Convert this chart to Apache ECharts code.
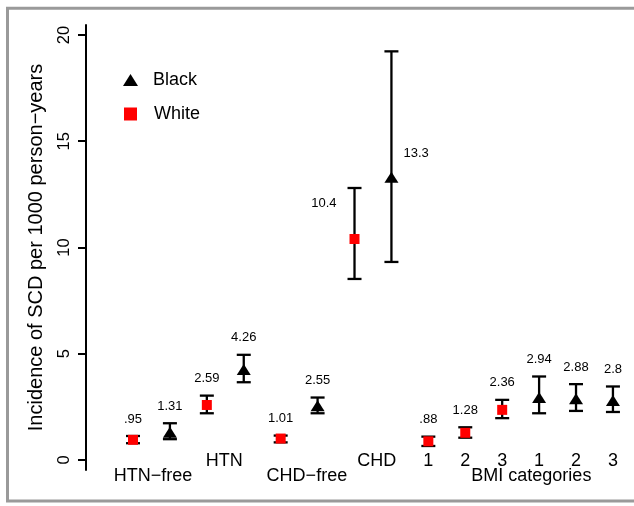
<!DOCTYPE html>
<html><head><meta charset="utf-8">
<script src="https://cdn.jsdelivr.net/npm/echarts@6/dist/echarts.min.js"></script>
<style>html,body{margin:0;padding:0;background:#fff}#c{width:634px;height:506px}</style>
</head><body><div id="c"></div>
<script>
// ---- data ----
const whitePos   = [1, 3, 5, 7, 9, 10, 11];
const whiteVal   = [0.95, 2.59, 1.01, 10.4, 0.88, 1.28, 2.36];
const whiteLow   = [0.79, 2.20, 0.83, 8.52, 0.66, 1.05, 1.97];
const whiteHigh  = [1.13, 3.03, 1.15, 12.8, 1.10, 1.54, 2.83];
const whiteText  = ['.95', '2.59', '1.01', '10.4', '.88', '1.28', '2.36'];

const blackPos   = [2, 4, 6, 8, 12, 13, 14];
const blackVal   = [1.31, 4.26, 2.55, 13.3, 2.94, 2.88, 2.8];
const blackLow   = [0.98, 3.66, 2.20, 9.32, 2.20, 2.31, 2.26];
const blackHigh  = [1.73, 4.95, 2.94, 19.23, 3.93, 3.57, 3.46];
const blackText  = ['1.31', '4.26', '2.55', '13.3', '2.94', '2.88', '2.8'];

const yTicks = [0, 5, 10, 15, 20];
const xTopLabelPos = [3.47, 7.6, 9, 10, 11, 12, 13, 14];
const xTopLabels   = ['HTN', 'CHD', '1', '2', '3', '1', '2', '3'];
const xBotLabelPos = [1.54, 5.71, 11.79];
const xBotLabels   = ['HTN\u2212free', 'CHD\u2212free', 'BMI categories'];

// label placement (layout, not data)
const whiteLabelSide = ['top','top','top','left','top','top','top'];
const blackLabelSide = ['top','top','top','right','top','top','top'];

const FONT = '"Liberation Sans", Arial, Helvetica, sans-serif';

function lookup(posArr, txtArr) {
  return function (v) {
    for (let i = 0; i < posArr.length; i++) if (Math.abs(posArr[i] - v) < 1e-6) return txtArr[i];
    return '';
  };
}

function makeBars(texts, sides) {
  return function (params, api) {
    const i = params.dataIndex;
    const x = api.value(0), lo = api.value(1), hi = api.value(2), v = api.value(3);
    const pLo = api.coord([x, lo]), pHi = api.coord([x, hi]), pV = api.coord([x, v]);
    const cx = pLo[0], hw = 7;
    const st = { stroke: '#000', lineWidth: 2.3 };
    const children = [
      { type: 'line', shape: { x1: cx, y1: pLo[1], x2: cx, y2: pHi[1] }, style: st },
      { type: 'line', shape: { x1: cx - hw, y1: pHi[1], x2: cx + hw, y2: pHi[1] }, style: st },
      { type: 'line', shape: { x1: cx - hw, y1: pLo[1], x2: cx + hw, y2: pLo[1] }, style: st }
    ];
    let tx = cx, ty = pHi[1] - 17, align = 'center';
    if (sides[i] === 'left') { tx = cx - 18; ty = pV[1] - 36; align = 'right'; }
    if (sides[i] === 'right') { tx = cx + 12; ty = pV[1] - 24; align = 'left'; }
    children.push({ type: 'text', x: tx, y: ty,
      style: { text: texts[i], fontSize: 13, fontFamily: FONT, fill: '#000', align: align, verticalAlign: 'middle' } });
    return { type: 'group', children: children };
  };
}

const whiteBars = whitePos.map((p, i) => [p, whiteLow[i], whiteHigh[i], whiteVal[i]]);
const blackBars = blackPos.map((p, i) => [p, blackLow[i], blackHigh[i], blackVal[i]]);

const xCommon = {
  type: 'value', min: -0.273, max: 14.5, position: 'bottom', gridIndex: 0,
  axisLine: { show: false, onZero: false }, axisTick: { show: false }, splitLine: { show: false }
};

const chart = echarts.init(document.getElementById('c'), null, { renderer: 'canvas' });
chart.setOption({
  animation: false,
  backgroundColor: '#fff',
  textStyle: { fontFamily: FONT },
  graphic: [{
    type: 'rect', shape: { x: 7.5, y: 8.3, width: 700, height: 492.7 },
    style: { fill: 'none', stroke: '#9a9a9a', lineWidth: 3 }, silent: true, z: -10
  }],
  grid: { left: 86, top: 25, width: 545.4, height: 445, containLabel: false, outerBoundsMode: 'none' },
  legend: [
    { data: ['Black'], left: 123, top: 71, padding: 0, orient: 'vertical', selectedMode: false,
      itemWidth: 15, itemHeight: 12, symbolKeepAspect: false,
      textStyle: { fontSize: 18, color: '#000', fontFamily: FONT, padding: [0, 0, 0, 10] } },
    { data: ['White'], left: 124, top: 105, padding: 0, orient: 'vertical', selectedMode: false,
      itemWidth: 13, itemHeight: 13, symbolKeepAspect: false,
      textStyle: { fontSize: 18, color: '#000', fontFamily: FONT, padding: [0, 0, 0, 12] } }
  ],
  xAxis: [
    Object.assign({}, xCommon, {
      axisLabel: { customValues: xTopLabelPos, formatter: lookup(xTopLabelPos, xTopLabels),
        fontSize: 18, color: '#000', fontFamily: FONT, margin: -18 }
    }),
    Object.assign({}, xCommon, {
      axisLabel: { customValues: xBotLabelPos, formatter: lookup(xBotLabelPos, xBotLabels),
        fontSize: 18, color: '#000', fontFamily: FONT, margin: -2.5 }
    })
  ],
  yAxis: {
    type: 'value', min: -0.47, max: 20.47,
    name: 'Incidence of SCD per 1000 person\u2212years', nameLocation: 'middle', nameGap: 40,
    nameTextStyle: { fontSize: 20, color: '#000', fontFamily: FONT },
    axisLine: { show: true, onZero: false, lineStyle: { color: '#000', width: 2 } },
    axisTick: { show: true, customValues: yTicks, length: 8, lineStyle: { color: '#000', width: 2 } },
    axisLabel: { show: true, customValues: yTicks, rotate: 90, fontSize: 16.5, color: '#000', fontFamily: FONT, margin: 13.5 },
    splitLine: { show: false }
  },
  series: [
    { type: 'custom', name: 'wbars', xAxisIndex: 0, renderItem: makeBars(whiteText, whiteLabelSide),
      data: whiteBars, encode: { x: 0, y: [1, 2] }, z: 2, silent: true },
    { type: 'custom', name: 'bbars', xAxisIndex: 0, renderItem: makeBars(blackText, blackLabelSide),
      data: blackBars, encode: { x: 0, y: [1, 2] }, z: 2, silent: true },
    { type: 'scatter', name: 'White', xAxisIndex: 0, symbol: 'rect', symbolSize: 10,
      itemStyle: { color: '#ff0000', opacity: 1 }, z: 5,
      data: whitePos.map((p, i) => [p, whiteVal[i]]) },
    { type: 'scatter', name: 'Black', xAxisIndex: 0, symbol: 'triangle', symbolSize: [14, 11],
      itemStyle: { color: '#000', opacity: 1 }, z: 5,
      data: blackPos.map((p, i) => [p, blackVal[i]]) }
  ]
});
</script>
</body></html>
